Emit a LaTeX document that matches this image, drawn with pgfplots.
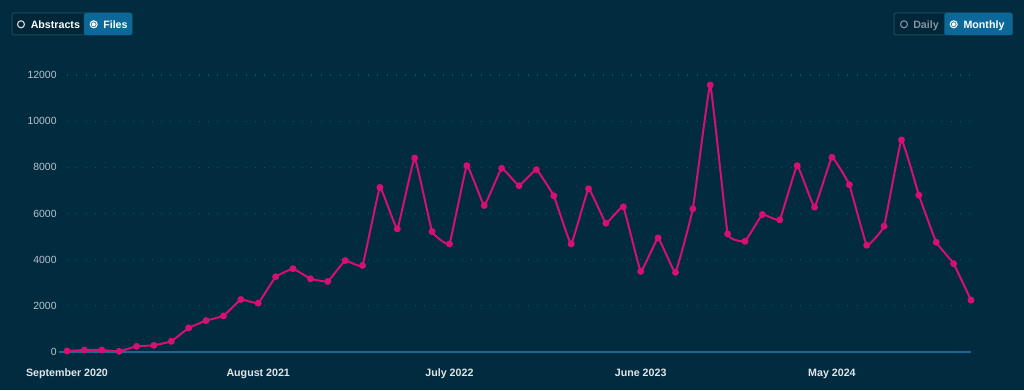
\documentclass[border=0pt]{standalone}
\usepackage{fontspec}
\setmainfont{Liberation Sans}
\usepackage{pgfplots}
\pgfplotsset{compat=1.18}
\definecolor{bg}{RGB}{1,44,64}
\definecolor{btnblue}{RGB}{12,104,152}
\definecolor{btndark}{RGB}{1,38,56}
\definecolor{btnborder}{RGB}{30,72,92}
\definecolor{linecol}{RGB}{214,16,112}
\definecolor{gridcol}{RGB}{28,80,106}
\definecolor{basecol}{RGB}{24,104,150}
\definecolor{ylab}{RGB}{185,195,204}
\definecolor{xlab}{RGB}{225,229,233}
\definecolor{graytxt}{RGB}{130,148,160}
\begin{document}
\begin{tikzpicture}
\path[use as bounding box] (0,0) rectangle (768pt,292.5pt);
\begin{scope}[x=0.75pt,y=0.75pt]
\fill[bg] (0,0) rectangle (1024,390);
% Abstracts / Files
\fill[btndark,rounded corners=1.5] (12,355) rectangle (84,377);
\draw[btnborder,line width=0.75pt,rounded corners=1.5] (12,355) rectangle (132,377);
\fill[btnblue,rounded corners=1.5] (84,355) rectangle (132,377);
\draw[white!85!bg,line width=0.8pt] (21,365.7) circle (3.5);
\draw[white,line width=0.8pt] (93.7,365.7) circle (3.5);
\fill[white] (93.7,365.7) circle (2);
\node[anchor=base west,inner sep=0,text=white,font=\bfseries\fontsize{8}{9}\selectfont] at (30.5,361.7) {Abstracts};
\node[anchor=base west,inner sep=0,text=white,font=\bfseries\fontsize{8}{9}\selectfont] at (103,361.7) {Files};
% Daily / Monthly
\fill[btndark,rounded corners=1.5] (894,355) rectangle (944.3,377);
\draw[btnborder,line width=0.75pt,rounded corners=1.5] (894,355) rectangle (1012.3,377);
\fill[btnblue,rounded corners=1.5] (944.3,355) rectangle (1012.3,377);
\draw[graytxt,line width=0.8pt] (904,365.7) circle (3.5);
\draw[white,line width=0.8pt] (953.7,365.7) circle (3.5);
\fill[white] (953.7,365.7) circle (2);
\node[anchor=base west,inner sep=0,text=graytxt,font=\bfseries\fontsize{8}{9}\selectfont] at (913,361.7) {Daily};
\node[anchor=base west,inner sep=0,text=white,font=\bfseries\fontsize{8}{9}\selectfont] at (963.3,361.7) {Monthly};
\end{scope}
\begin{axis}[
  at={(50.25pt,28.5pt)}, anchor=south west,
  scale only axis, width=678pt, height=207.75pt,
  xmin=0, xmax=52, ymin=0, ymax=12000,
  clip=false,
  axis line style={draw=none},
  tick style={draw=none},
  ytick={0,2000,4000,6000,8000,10000,12000},
  scaled y ticks=false,
  xtick={0,11,22,33,44},
  xticklabels={September 2020,August 2021,July 2022,June 2023,May 2024},
  ymajorgrids,
  grid style={gridcol, line width=0.9pt, dash pattern=on 0.75pt off 6.3pt},
  yticklabel={\pgfmathprintnumber[fixed,precision=0,1000 sep={},assume math mode=true]{\tick}},
  yticklabel style={font=\fontsize{7.8}{9}\selectfont, text=ylab, anchor=east, xshift=-4.3pt},
  xticklabel style={font=\bfseries\fontsize{8}{9}\selectfont, text=xlab, anchor=base, yshift=-18pt},
]
\draw[basecol, line width=0.9pt] (axis cs:-0.45,0) -- (axis cs:52,0);
\addplot[linecol, line width=1.5pt, smooth, tension=0.15, mark=*, mark size=1.8pt, mark options={solid, fill=linecol, draw=none}] coordinates {
(0,43) (1,87) (2,87) (3,29) (4,246) (5,290) (6,464) (7,1043) (8,1362) (9,1565)
(10,2275) (11,2116) (12,3260) (13,3608) (14,3173) (15,3057) (16,3960) (17,3750) (18,7130) (19,5333)
(20,8406) (21,5217) (22,4681) (23,8072) (24,6348) (25,7957) (26,7203) (27,7899) (28,6768) (29,4682)
(30,7073) (31,5580) (32,6290) (33,3494) (34,4943) (35,3450) (36,6204) (37,11565) (38,5117) (39,4798)
(40,5957) (41,5725) (42,8072) (43,6276) (44,8435) (45,7247) (46,4624) (47,5450) (48,9188) (49,6797)
(50,4754) (51,3827) (52,2247)
};
\end{axis}
\end{tikzpicture}
\end{document}
